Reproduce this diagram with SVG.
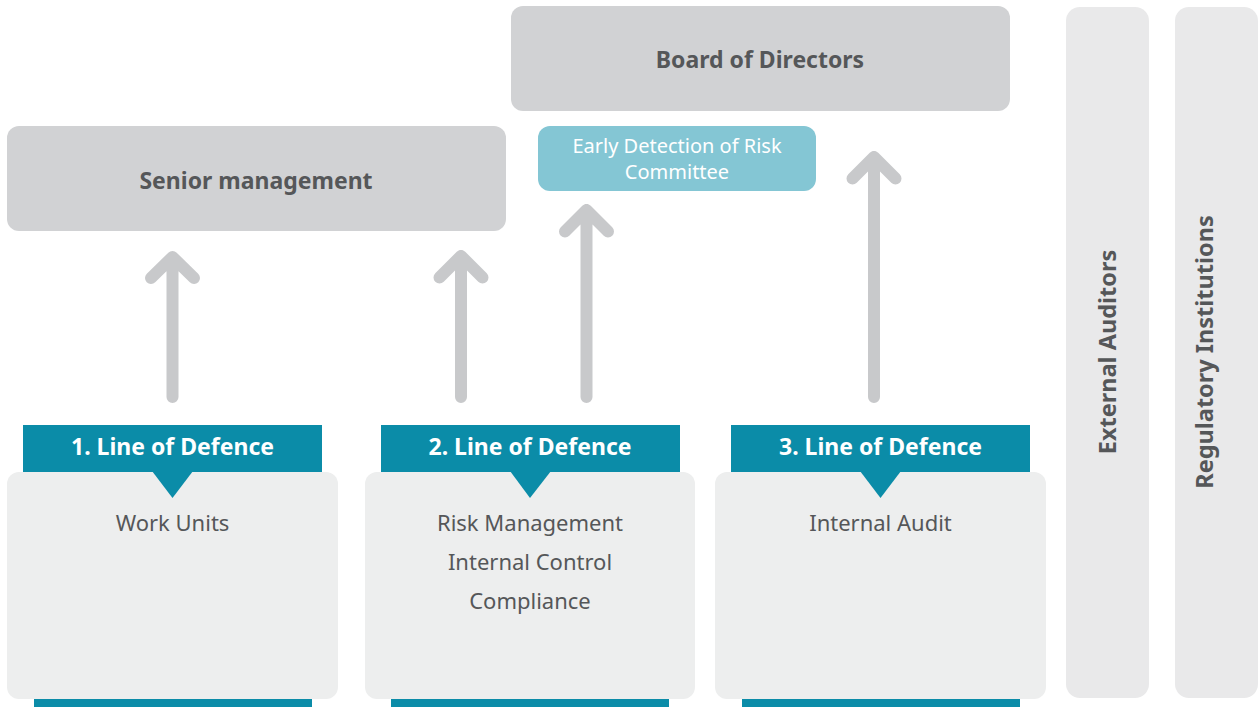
<svg xmlns="http://www.w3.org/2000/svg" width="1258" height="707" viewBox="0 0 1258 707">
<style>
.gbox{fill:#d1d2d4}
.side{fill:#e9e9ea}
.body{fill:#edeeee}
.teal{fill:#0b8ca8}
.bold{font-family:"Noto Sans","Open Sans",sans-serif;font-weight:700;fill:#555759;text-anchor:middle}
.hdr{font-family:"Noto Sans","Open Sans",sans-serif;font-weight:700;fill:#ffffff;text-anchor:middle;font-size:23px}
.reg{font-family:"Noto Sans","Open Sans",sans-serif;font-weight:400;fill:#555759;text-anchor:middle;font-size:22px}
.wt{font-family:"Noto Sans","Open Sans",sans-serif;font-weight:400;fill:#ffffff;text-anchor:middle;font-size:20px}
.arr{fill:none;stroke:#c8c9cb;stroke-width:12;stroke-linecap:round;stroke-linejoin:round}
</style>
<rect width="1258" height="707" fill="#ffffff"/>
<g id="board">
<rect class="gbox" x="511" y="6" width="499" height="105" rx="12"/>
<text class="bold" x="760" y="68" font-size="23">Board of Directors</text>
</g>
<g id="senior">
<rect class="gbox" x="7" y="126" width="499" height="105" rx="12"/>
<text class="bold" x="256" y="189" font-size="23">Senior management</text>
</g>
<g id="committee">
<rect x="538" y="126" width="278" height="65" rx="12" fill="#84c6d4"/>
<text class="wt" x="677" y="153">Early Detection of Risk</text>
<text class="wt" x="677" y="179">Committee</text>
</g>
<g id="external">
<rect class="side" x="1066" y="7" width="83" height="691" rx="14"/>
<text class="bold" font-size="23.5" transform="translate(1116,352) rotate(-90)">External Auditors</text>
</g>
<g id="regulatory">
<rect class="side" x="1175" y="7" width="83" height="691" rx="14"/>
<text class="bold" font-size="23.5" transform="translate(1213,352) rotate(-90)">Regulatory Institutions</text>
</g>
<g id="line1">
<rect class="body" x="7" y="472" width="331" height="227" rx="12"/>
<rect class="teal" x="34" y="699" width="278" height="8"/>
<rect class="teal" x="23" y="425" width="299" height="47"/>
<polygon class="teal" points="152,471 193,471 172.5,498"/>
<text class="hdr" x="172.5" y="455">1. Line of Defence</text>
<text class="reg" x="172.5" y="531">Work Units</text>
</g>
<g id="line2">
<rect class="body" x="365" y="472" width="330" height="227" rx="12"/>
<rect class="teal" x="391" y="699" width="278" height="8"/>
<rect class="teal" x="381" y="425" width="299" height="47"/>
<polygon class="teal" points="510,471 551,471 530,498"/>
<text class="hdr" x="530" y="455">2. Line of Defence</text>
<text class="reg" x="530" y="531">Risk Management</text>
<text class="reg" x="530" y="570">Internal Control</text>
<text class="reg" x="530" y="609">Compliance</text>
</g>
<g id="line3">
<rect class="body" x="715" y="472" width="331" height="227" rx="12"/>
<rect class="teal" x="742" y="699" width="278" height="8"/>
<rect class="teal" x="731" y="425" width="299" height="47"/>
<polygon class="teal" points="860,471 901,471 880.5,498"/>
<text class="hdr" x="880.5" y="455">3. Line of Defence</text>
<text class="reg" x="880.5" y="531">Internal Audit</text>
</g>
<g id="connectors">
<path class="arr" d="M172.5,397 V257 M151,278 L172.5,257 L194,278"/>
<path class="arr" d="M461,397 V256 M439.5,277.5 L461,256 L482.5,277.5"/>
<path class="arr" d="M586.5,397 V210 M565,231.5 L586.5,210 L608,231.5"/>
<path class="arr" d="M874,397 V157 M852.5,178.5 L874,157 L895.5,178.5"/>
</g>
</svg>
